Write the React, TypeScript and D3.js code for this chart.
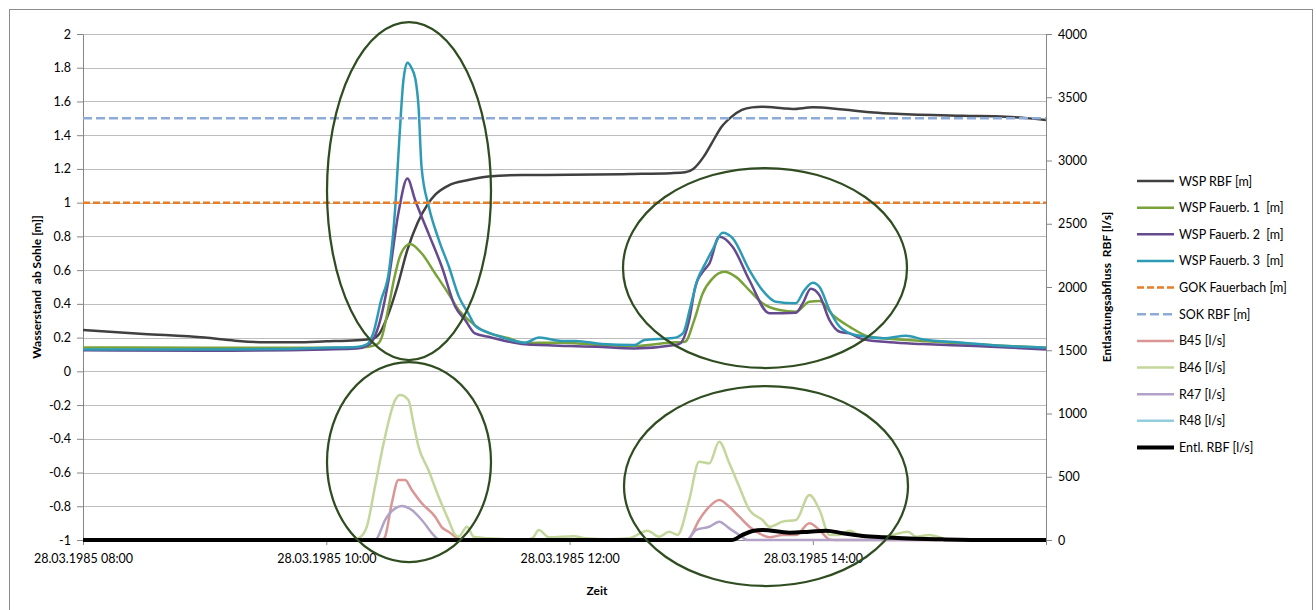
import { useEffect, useRef } from 'react';
import * as d3 from 'd3';

// minutes after 28.03.1985 08:00
const timeTicks = [0, 120, 240, 360];
const timeLabels = ['28.03.1985 08:00', '28.03.1985 10:00', '28.03.1985 12:00', '28.03.1985 14:00'];
const leftTicks = [-1, -0.8, -0.6, -0.4, -0.2, 0, 0.2, 0.4, 0.6, 0.8, 1, 1.2, 1.4, 1.6, 1.8, 2];
const rightTicks = [0, 500, 1000, 1500, 2000, 2500, 3000, 3500, 4000];

const wspRbf = [
  [0, 0.245], [30, 0.222], [60, 0.2], [75, 0.182], [90, 0.172], [105, 0.172], [120, 0.178], [135, 0.185],
  [142, 0.19], [146, 0.22], [150, 0.32], [155, 0.5], [160, 0.72], [165, 0.88], [170, 0.99], [174, 1.05],
  [180, 1.1], [190, 1.134], [200, 1.155], [217, 1.164], [240, 1.165], [270, 1.17], [290, 1.175], [297, 1.18],
  [301, 1.2], [306, 1.27], [310, 1.35], [315, 1.45], [320, 1.51], [325, 1.55], [330, 1.565], [335, 1.568],
  [345, 1.56], [350, 1.555], [360, 1.565], [375, 1.552], [390, 1.535], [401, 1.527], [434, 1.515], [455, 1.51],
  [475, 1.49],
];
const wspF1 = [
  [0, 0.142], [60, 0.14], [120, 0.14], [140, 0.145], [145, 0.16], [147.3, 0.2], [150.7, 0.38], [153.5, 0.55],
  [156, 0.67], [159, 0.74], [161.3, 0.755], [167, 0.7], [173.7, 0.58], [180.3, 0.46], [185.3, 0.364],
  [190.2, 0.304], [196.8, 0.245], [210, 0.196], [218, 0.168], [236, 0.17], [256, 0.156], [272, 0.15],
  [289, 0.17], [297, 0.176], [301.5, 0.304], [305.6, 0.46], [310.5, 0.55], [316.3, 0.59], [322, 0.56],
  [328.7, 0.48], [335.2, 0.403], [343.5, 0.364], [351.7, 0.354], [358.3, 0.413], [363.3, 0.417],
  [369.8, 0.334], [378, 0.265], [388, 0.205], [414, 0.18], [440, 0.16], [475, 0.14],
];
const wspF2 = [
  [0, 0.125], [60, 0.122], [120, 0.13], [135, 0.135], [141, 0.156], [145.7, 0.265], [150.7, 0.54],
  [155.6, 0.94], [160, 1.144], [163.8, 1.016], [170.4, 0.818], [177, 0.62], [183.6, 0.383], [188.5, 0.304],
  [193.3, 0.225], [200, 0.205], [218, 0.16], [240, 0.15], [253, 0.146], [272, 0.136], [292, 0.156],
  [294.7, 0.167], [299, 0.304], [302, 0.5], [306.4, 0.6], [309, 0.64], [313.8, 0.798], [320.4, 0.739],
  [328.7, 0.54], [338.6, 0.344], [351.7, 0.348], [355, 0.403], [359, 0.49], [363.3, 0.45], [368.2, 0.304],
  [373.2, 0.235], [378, 0.225], [384.7, 0.19], [398, 0.172], [414, 0.162], [440, 0.15], [475, 0.13],
];
const wspF3 = [
  [0, 0.13], [60, 0.13], [100, 0.133], [120, 0.14], [135, 0.145], [140, 0.16], [143, 0.22], [147, 0.42],
  [151, 0.6], [154, 0.97], [156, 1.37], [158, 1.72], [160, 1.83], [162, 1.8], [164, 1.73], [165.5, 1.57],
  [167, 1.21], [170.5, 0.98], [175.5, 0.78], [180.5, 0.62], [185.5, 0.44], [190, 0.345], [193.5, 0.27],
  [200, 0.23], [206, 0.205], [218, 0.17], [225, 0.2], [236, 0.18], [243, 0.18], [256, 0.162], [272, 0.156],
  [277, 0.186], [291, 0.197], [296, 0.227], [299.6, 0.383], [303, 0.54], [307, 0.64], [310.5, 0.72],
  [315.5, 0.822], [320.4, 0.79], [328.7, 0.6], [335.2, 0.48], [341.7, 0.413], [351.5, 0.403], [355.8, 0.48],
  [360, 0.525], [363.3, 0.5], [368.2, 0.364], [373.2, 0.265], [381, 0.215], [395, 0.196], [406, 0.211],
  [414, 0.19], [434, 0.17], [455, 0.15], [475, 0.14],
];
const gokFauerbach = [[0, 1], [475, 1]];
const sokRbf = [[0, 1.5], [475, 1.5]];
const b45 = [
  [0, 0], [147.5, 0], [149, 26], [152.3, 290], [155.6, 474], [158.9, 474], [162.2, 395], [167.1, 290],
  [173.7, 184], [177, 100], [180.3, 66], [183.6, 26], [187, 0], [298, 0], [299, 13], [303.9, 158],
  [308.9, 263], [313.8, 316], [318.8, 263], [323.7, 184], [328.7, 105], [333.6, 53], [338.6, 21],
  [345.1, 40], [351.7, 40], [358.3, 132], [363.3, 79], [368.2, 5], [371, 0], [475, 0],
];
const b46 = [
  [0, 0], [133, 0], [137, 26], [140, 105], [144, 421], [149, 817], [154, 1107], [156.4, 1146], [160.5, 1107],
  [163, 922], [165.5, 738], [170.4, 553], [175.4, 342], [180.3, 158], [183.6, 40], [185.3, 26], [189.4, 105],
  [192.7, 26], [200, 13], [206.7, 8], [218, 0], [222, 20], [224.8, 79], [229.8, 21], [242, 30], [247.9, 13],
  [259.4, 5], [269.3, 13], [278.4, 74], [284.2, 26], [289.1, 66], [293.2, 40], [299, 316], [303.9, 619],
  [308.9, 606], [313.8, 777], [318.8, 606], [323.7, 421], [328.7, 237], [335.2, 158], [338.6, 105],
  [345.1, 145], [351.7, 158], [358.3, 356], [363.3, 237], [368.2, 40], [373.2, 40], [378.1, 74], [384.7, 26],
  [394.6, 26], [406.9, 66], [411, 26], [417.6, 40], [424.2, 13], [430.8, 0], [475, 0],
];
const r47 = [
  [0, 0], [144, 0], [145, 13], [149, 158], [154, 250], [157.2, 269], [162.2, 237], [167.1, 158], [173.7, 26],
  [176, 0], [298, 0], [299, 13], [302.3, 79], [308.9, 105], [313.8, 145], [318.8, 92], [323.7, 40],
  [327.8, 0], [475, 0],
];
const r48 = []; // no visible values, legend entry only
const entlRbf = [
  [0, 0], [320, 0], [325.3, 40], [330.3, 71], [335.2, 79], [348.4, 58], [358.3, 66], [366.5, 74],
  [374.8, 53], [384.7, 32], [394.6, 21], [404.4, 13], [424.2, 5], [447.5, 0], [475, 0],
];

const series = [
  { name: 'WSP RBF [m]', data: wspRbf, color: '#404040', width: 2.5, dash: null, axis: 'left' },
  { name: 'WSP Fauerb. 1  [m]', data: wspF1, color: '#7aa23a', width: 2.5, dash: null, axis: 'left' },
  { name: 'WSP Fauerb. 2  [m]', data: wspF2, color: '#664a8f', width: 2.5, dash: null, axis: 'left' },
  { name: 'WSP Fauerb. 3  [m]', data: wspF3, color: '#2e9bb6', width: 2.5, dash: null, axis: 'left' },
  { name: 'GOK Fauerbach [m]', data: gokFauerbach, color: '#e67e2a', width: 2.5, dash: '7,3', axis: 'left' },
  { name: 'SOK RBF [m]', data: sokRbf, color: '#8eaad9', width: 2.5, dash: '9,4', axis: 'left' },
  { name: 'B45 [l/s]', data: b45, color: '#d99694', width: 2.5, dash: null, axis: 'right' },
  { name: 'B46 [l/s]', data: b46, color: '#c3d69b', width: 2.5, dash: null, axis: 'right' },
  { name: 'R47 [l/s]', data: r47, color: '#b3a2c7', width: 2.5, dash: null, axis: 'right' },
  { name: 'R48 [l/s]', data: r48, color: '#93cddd', width: 2.5, dash: null, axis: 'right' },
  { name: 'Entl. RBF [l/s]', data: entlRbf, color: '#000000', width: 4, dash: null, axis: 'right' },
];

// highlight ellipses drawn over the chart: [cx, cy, rx, ry]
const ellipses = [
  [409, 191, 82, 169],
  [409, 462, 82, 100],
  [765, 268, 142, 100],
  [766, 486, 142, 100],
];

const font = 'Lato, "Open Sans", sans-serif';

const Chart = () => {
  const ref = useRef(null);

  useEffect(() => {
    const svg = d3.select(ref.current);
    svg.selectAll('*').remove();

    const left = 83;
    const right = 1046;
    const top = 34;
    const bottom = 540;

    const x = d3.scaleLinear().domain([0, 475]).range([left, right]);
    const yL = d3.scaleLinear().domain([-1, 2]).range([bottom, top]);
    const yR = d3.scaleLinear().domain([0, 4000]).range([bottom, top]);

    svg
      .append('rect')
      .attr('x', 9.5)
      .attr('y', 9.5)
      .attr('width', 1303)
      .attr('height', 620)
      .attr('fill', '#fff')
      .attr('stroke', '#8c8c8c');

    // gridlines
    svg
      .append('g')
      .selectAll('line')
      .data(leftTicks.filter((d) => d > -1))
      .enter()
      .append('line')
      .attr('x1', left)
      .attr('x2', right)
      .attr('y1', (d) => Math.round(yL(d)) + 0.5)
      .attr('y2', (d) => Math.round(yL(d)) + 0.5)
      .attr('stroke', '#bdbdbd');

    // left axis
    const gl = svg.append('g').attr('transform', `translate(${left},0)`).call(
      d3
        .axisLeft(yL)
        .tickValues(leftTicks)
        .tickSize(6)
        .tickPadding(6)
        .tickFormat((d) => String(+(+d).toFixed(1)))
    );
    // right axis
    const gr = svg.append('g').attr('transform', `translate(${right},0)`).call(
      d3.axisRight(yR).tickValues(rightTicks).tickSize(6).tickPadding(6).tickFormat((d) => String(d))
    );
    // bottom axis
    const gb = svg.append('g').attr('transform', `translate(0,${bottom})`).call(
      d3
        .axisBottom(x)
        .tickValues(timeTicks)
        .tickSize(5)
        .tickPadding(9)
        .tickFormat((_, i) => timeLabels[i])
    );
    [gl, gr, gb].forEach((g) => {
      g.select('.domain').attr('stroke', '#868686');
      g.selectAll('.tick line').attr('stroke', '#868686');
      g.selectAll('.tick text').attr('fill', '#000').attr('font-size', 12.5).attr('font-family', font);
    });

    // series
    series.forEach((s) => {
      if (!s.data.length) return;
      const y = s.axis === 'left' ? yL : yR;
      const line = d3
        .line()
        .x((d) => x(d[0]))
        .y((d) => y(d[1]))
        .curve(d3.curveMonotoneX);
      svg
        .append('path')
        .datum(s.data)
        .attr('d', line)
        .attr('fill', 'none')
        .attr('stroke', s.color)
        .attr('stroke-width', s.width)
        .attr('stroke-linejoin', 'round')
        .attr('stroke-dasharray', s.dash);
    });

    // axis titles
    const title = (t, transform) =>
      svg
        .append('text')
        .attr('transform', transform)
        .attr('text-anchor', 'middle')
        .attr('dominant-baseline', 'central')
        .attr('font-family', font)
        .attr('font-weight', 'bold')
        .attr('font-size', 12)
        .style('white-space', 'pre')
        .text(t);
    title('Wasserstand  ab Sohle [m]]', 'translate(36,287) rotate(-90)');
    title('Entlastungsabfluss  RBF [l/s]', 'translate(1106,287) rotate(-90)');
    title('Zeit', 'translate(597,590)');

    // legend
    const lg = svg
      .append('g')
      .selectAll('g')
      .data(series)
      .enter()
      .append('g')
      .attr('transform', (_, i) => `translate(1137,${181 + i * 26.65})`);
    lg.append('line')
      .attr('x1', 0)
      .attr('x2', 37)
      .attr('stroke', (d) => d.color)
      .attr('stroke-width', (d) => d.width)
      .attr('stroke-dasharray', (d) => d.dash);
    lg.append('text')
      .attr('x', 42)
      .attr('dominant-baseline', 'central')
      .attr('font-family', font)
      .attr('font-size', 12.5)
      .style('white-space', 'pre')
      .text((d) => d.name);

    // ellipses
    svg
      .append('g')
      .selectAll('ellipse')
      .data(ellipses)
      .enter()
      .append('ellipse')
      .attr('cx', (d) => d[0])
      .attr('cy', (d) => d[1])
      .attr('rx', (d) => d[2])
      .attr('ry', (d) => d[3])
      .attr('fill', 'none')
      .attr('stroke', '#2f4d20')
      .attr('stroke-width', 2.25);
  }, []);

  return <svg ref={ref} width={1316} height={610} style={{ position: 'absolute', left: 0, top: 0 }}></svg>;
};

export default function App() {
  return <Chart />;
}
